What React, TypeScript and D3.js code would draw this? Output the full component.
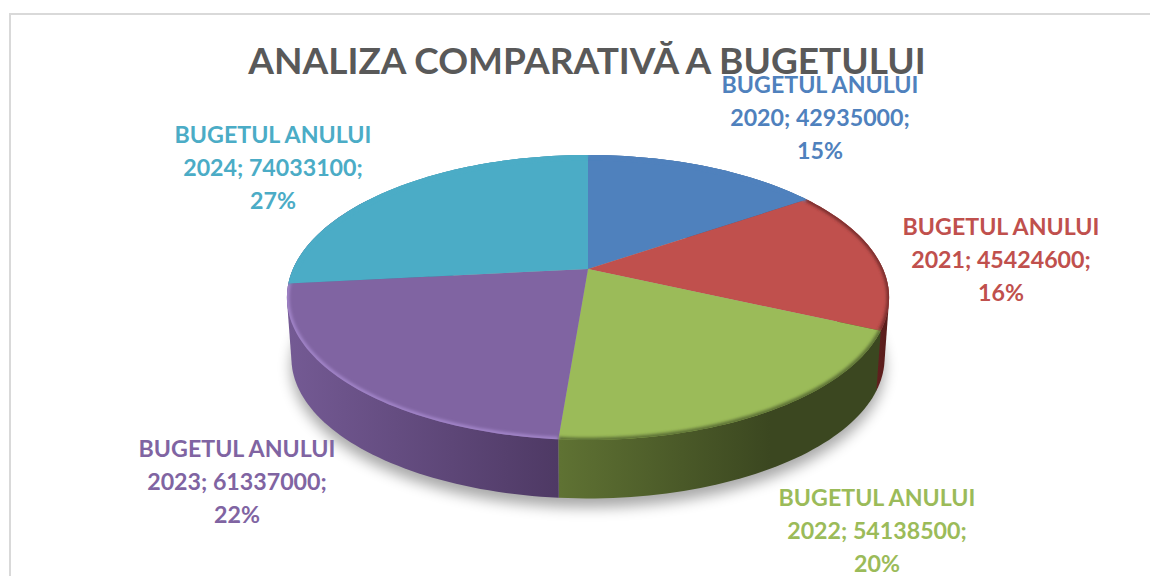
import React from "react";
import * as d3 from "d3";

const titleText = "ANALIZA COMPARATIVĂ A BUGETULUI";
const years = ["2020", "2021", "2022", "2023", "2024"];
const budgets = [42935000, 45424600, 54138500, 61337000, 74033100];
const percents = ["15%", "16%", "20%", "22%", "27%"];
const topColors = ["#4f81bd", "#c0504d", "#9bbb59", "#8064a2", "#4bacc6"];
const rimColors = ["#4f81bd", "#7a2f2d", "#5c7034", "#a184c8", "#4bacc6"];
const sideStart = ["#3a5f8c", "#6e2523", "#5f7233", "#745a94", "#37809a"];
const sideEnd = ["#2d4a6e", "#571c1a", "#3b4720", "#4e3964", "#2c6a80"];
const labelX = [820, 1001, 877, 237, 273];
const labelY = [93, 235, 506, 457, 143];

const cx = 588, cy = 269, scaleX = 295, scaleY = 136.8, persp = 0.2, depth = 61, shrink = 0.985;

function project(a: number, bottom: boolean): [number, number] {
  const X = Math.sin(a), Y = -Math.cos(a);
  const w = 1 - persp * Y;
  const s = bottom ? shrink : 1;
  return [cx + (s * scaleX * X) / w, cy + (s * scaleY * Y) / w + (bottom ? depth : 0)];
}

const pieGen = d3.pie<number>().sort(null).startAngle(0).endAngle(2 * Math.PI);
const arcsData = pieGen(budgets);
const lineGen = d3.line<[number, number]>();

function sampled(a0: number, a1: number, bottom: boolean): [number, number][] {
  const n = Math.max(8, Math.ceil(Math.abs(a1 - a0) * 40));
  return d3.range(n + 1).map((i) => project(a0 + ((a1 - a0) * i) / n, bottom));
}

const center: [number, number] = [cx, cy];
const sideOrder = [4, 0, 1, 2, 3];

export default function App() {
  return (
    <svg width={1150} height={576} style={{ position: "absolute", left: 0, top: 0, background: "#fff" }}
      fontFamily="Lato, Carlito, sans-serif" fontWeight={700}>
      <defs>
        <filter id="shadow" x="-20%" y="-20%" width="140%" height="150%"><feGaussianBlur stdDeviation="7" /></filter>
        <filter id="rim" x="-10%" y="-10%" width="120%" height="120%"><feGaussianBlur stdDeviation="1.8" /></filter>
        {arcsData.map((d, i) => (
          <linearGradient key={i} id={`side${i}`} gradientUnits="userSpaceOnUse"
            x1={i === 3 ? 287 : i === 2 ? 560 : 860} x2={i === 3 ? 560 : i === 2 ? 770 : 890} y1={0} y2={0}>
            <stop offset="0" stopColor={sideStart[i]} />
            <stop offset="1" stopColor={sideEnd[i]} />
          </linearGradient>
        ))}
        <clipPath id="faceClip">
          <path d={(lineGen(sampled(0, 2 * Math.PI, false)) ?? "") + "Z"} />
        </clipPath>
      </defs>

      <path d="M1150,14 H10 V576" fill="none" stroke="#d9d9d9" strokeWidth={2} />

      <path d={(lineGen(sampled(0, 2 * Math.PI, true)) ?? "") + "Z"} fill="#000" opacity={0.34}
        filter="url(#shadow)" transform="translate(0,9)" />

      {sideOrder.map((i) => {
        const d = arcsData[i];
        const end = i === 3 ? d.endAngle + 0.7 : d.endAngle;
        const hull = d3.polygonHull([...sampled(d.startAngle, end, false), ...sampled(d.startAngle, end, true)]) ?? [];
        return <path key={i} d={(lineGen(hull) ?? "") + "Z"} fill={`url(#side${i})`} />;
      })}

      {arcsData.map((d, i) => (
        <path key={i} d={(lineGen([center, ...sampled(d.startAngle, d.endAngle, false)]) ?? "") + "Z"}
          fill={topColors[i]} />
      ))}

      <g clipPath="url(#faceClip)">
        {arcsData.map((d, i) => (
          <path key={i} d={lineGen(sampled(d.startAngle, d.endAngle, false)) ?? ""} fill="none"
            stroke={rimColors[i]} strokeWidth={5} filter="url(#rim)" />
        ))}
      </g>

      <text x={587} y={74} textAnchor="middle" fontSize={37} fill="#595959">{titleText}</text>

      {years.map((year, i) => (
        <text key={year} textAnchor="middle" fontSize={23.2} fill={topColors[i]}>
          <tspan x={labelX[i]} y={labelY[i]}>BUGETUL ANULUI</tspan>
          <tspan x={labelX[i]} y={labelY[i] + 33}>{`${year}; ${budgets[i]};`}</tspan>
          <tspan x={labelX[i]} y={labelY[i] + 66}>{percents[i]}</tspan>
        </text>
      ))}
    </svg>
  );
}
